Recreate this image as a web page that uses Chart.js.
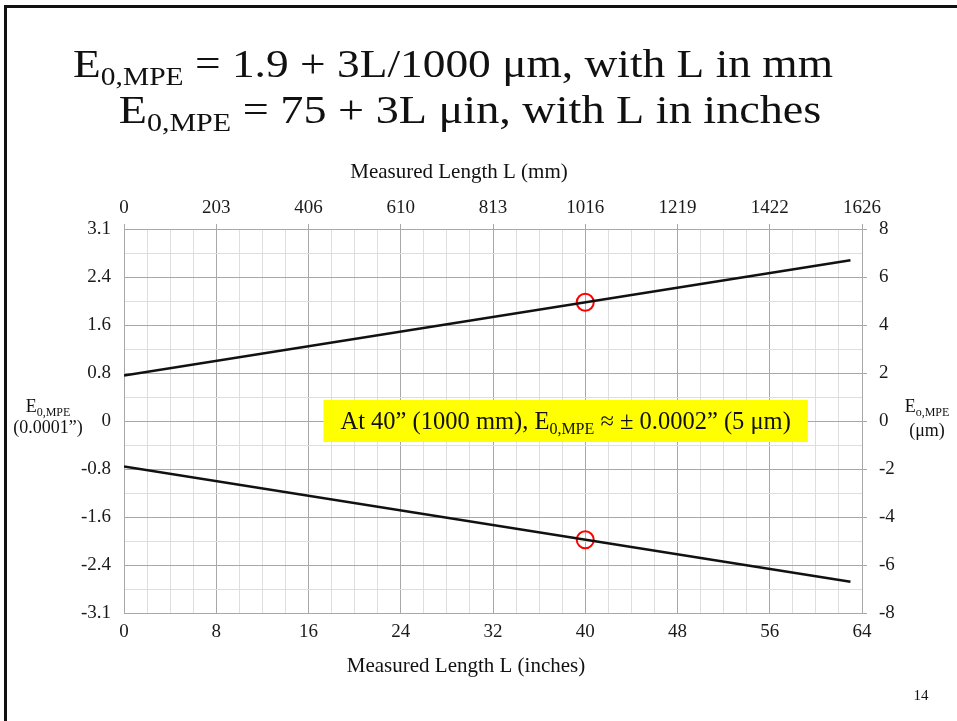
<!DOCTYPE html>
<html>
<head>
<meta charset="utf-8">
<script src="https://cdn.jsdelivr.net/npm/chart.js@4.4.1/dist/chart.umd.min.js"></script>
<style>
  html, body { margin: 0; padding: 0; background: #fff; overflow: hidden; }
  #wrap { position: relative; width: 957px; height: 721px; }
</style>
</head>
<body>
<div id="wrap"><canvas id="chart" width="957" height="721"></canvas></div>
<script>
// tick labels
const inchLabels = ['0','8','16','24','32','40','48','56','64'];
const mmLabels   = ['0','203','406','610','813','1016','1219','1422','1626'];
const umLabels   = ['-8','-6','-4','-2','0','2','4','6','8'];
const tenthLabels = ['-3.1','-2.4','-1.6','-0.8','0','0.8','1.6','2.4','3.1'];

// series (L in inches, E in µm)
const lengthIn = [0, 63];
const upperUm  = [1.9, 6.7];
const lowerUm  = [-1.9, -6.7];
const markIn   = [40, 40];
const markUm   = [4.95, -4.95];

const SERIF = '"Liberation Serif", "Times New Roman", serif';
const MAJOR = '#a8a8a8', MINOR = '#dedede';

// text with subscript runs: parts = [[text, isSub], ...]
function runsWidth(ctx, parts, size){
  const sub = Math.round(size*0.64);
  let w = 0;
  parts.forEach(p => { ctx.font = (p[1]?sub:size)+'px '+SERIF; w += ctx.measureText(p[0]).width; });
  return w;
}
function drawRuns(ctx, parts, x, y, size, align, sx){
  sx = sx || 1;
  const sub = Math.round(size*0.64);
  const w = runsWidth(ctx, parts, size) * sx;
  let cx = align==='center' ? x-w/2 : align==='right' ? x-w : x;
  ctx.save();
  ctx.translate(cx, y);
  ctx.scale(sx, 1);
  ctx.textAlign = 'left'; ctx.textBaseline = 'alphabetic';
  let px = 0;
  parts.forEach(p => {
    ctx.font = (p[1]?sub:size)+'px '+SERIF;
    ctx.fillText(p[0], px, p[1] ? size*0.2 : 0);
    px += ctx.measureText(p[0]).width;
  });
  ctx.restore();
  return w;
}

const slideText = {
  id: 'slideText',
  afterDatasetsDraw(chart){
    const ctx = chart.ctx, xs = chart.scales.x, ys = chart.scales.yR;
    ctx.save();
    // yellow note box centred on 38.3", 0 µm
    const parts = [['At 40\u201D (1000 mm), E',0],['0,MPE',1],[' \u2248 \u00B1 0.0002\u201D (5 \u03BCm)',0]];
    const size = 24.5;
    const w = runsWidth(ctx, parts, size);
    const cx = xs.getPixelForValue(38.3), cy = ys.getPixelForValue(0);
    ctx.fillStyle = '#ffff00';
    ctx.fillRect(cx-w/2-17, cy-21, w+34, 42);
    ctx.fillStyle = '#111';
    drawRuns(ctx, parts, cx, cy+8, size, 'center');
    ctx.restore();
  },
  afterDraw(chart){
    const ctx = chart.ctx;
    ctx.save();
    // slide border
    ctx.fillStyle = '#111';
    ctx.fillRect(4, 5, 3, 716);
    ctx.fillRect(4, 5, 953, 3);
    // title
    drawRuns(ctx, [['E',0],['0,MPE',1],[' = 1.9 + 3L/1000 \u03BCm, with L in mm',0]], 453, 77, 40, 'center', 1.135);
    drawRuns(ctx, [['E',0],['0,MPE',1],[' = 75 + 3L \u03BCin, with L in inches',0]], 470, 123, 40, 'center', 1.155);
    // axis titles
    drawRuns(ctx, [['Measured Length L (mm)',0]], 459, 178, 21, 'center');
    drawRuns(ctx, [['Measured Length L (inches)',0]], 466, 672, 21, 'center');
    drawRuns(ctx, [['E',0],['0,MPE',1]], 48, 412, 18, 'center');
    drawRuns(ctx, [['(0.0001\u201D)',0]], 48, 433, 18, 'center');
    drawRuns(ctx, [['E',0],['o,MPE',1]], 927, 412, 18, 'center');
    drawRuns(ctx, [['(\u03BCm)',0]], 927, 436, 18, 'center');
    // page number
    drawRuns(ctx, [['14',0]], 921, 700, 15, 'center');
    ctx.restore();
  }
};

const tickFont = { family: SERIF, size: 19 };

new Chart(document.getElementById('chart'), {
  type: 'scatter',
  data: {
    datasets: [
      { data: lengthIn.map((x,i)=>({x, y: upperUm[i]})), xAxisID: 'x', yAxisID: 'yR',
        showLine: true, borderColor: '#111', borderWidth: 2.5, pointRadius: 0 },
      { data: lengthIn.map((x,i)=>({x, y: lowerUm[i]})), xAxisID: 'x', yAxisID: 'yR',
        showLine: true, borderColor: '#111', borderWidth: 2.5, pointRadius: 0 },
      { data: markIn.map((x,i)=>({x, y: markUm[i]})), xAxisID: 'x', yAxisID: 'yR',
        showLine: false, pointRadius: 8.5, pointBorderWidth: 2,
        borderColor: '#ff0000', backgroundColor: 'rgba(0,0,0,0)' }
    ]
  },
  options: {
    responsive: false,
    animation: false,
    devicePixelRatio: 1,
    layout: { padding: 0 },
    plugins: { legend: { display: false }, tooltip: { enabled: false } },
    scales: {
      x: {
        type: 'linear', position: 'bottom', min: 0, max: 64,
        ticks: { stepSize: 2, autoSkip: false, maxRotation: 0, color: '#1a1a1a', font: tickFont, padding: 8,
          callback: v => v % 8 === 0 ? inchLabels[v/8] : '' },
        grid: { color: c => c.tick && c.tick.value % 8 === 0 ? MAJOR : MINOR, drawTicks: false },
        border: { color: MAJOR },
        afterFit: s => { s.height = 108; }
      },
      xTop: {
        type: 'linear', position: 'top', min: 0, max: 64,
        ticks: { stepSize: 8, autoSkip: false, maxRotation: 0, color: '#1a1a1a', font: tickFont, padding: 5,
          callback: v => mmLabels[v/8] },
        grid: { drawOnChartArea: false, drawTicks: true, tickLength: 5, color: MAJOR },
        border: { display: false },
        afterFit: s => { s.height = 229; }
      },
      yR: {
        type: 'linear', position: 'right', min: -8, max: 8,
        ticks: { stepSize: 1, autoSkip: false, color: '#1a1a1a', font: tickFont, padding: 12,
          callback: v => v % 2 === 0 ? umLabels[(v+8)/2] : '' },
        grid: { color: c => c.tick && c.tick.value % 2 === 0 ? MAJOR : MINOR, drawTicks: true, tickLength: 5,
          tickColor: c => c.tick && c.tick.value % 2 === 0 ? MAJOR : 'rgba(0,0,0,0)' },
        border: { color: MAJOR },
        afterFit: s => { s.width = 95; }
      },
      yL: {
        type: 'linear', position: 'left', min: -8, max: 8,
        ticks: { stepSize: 2, autoSkip: false, color: '#1a1a1a', font: tickFont, padding: 13,
          callback: v => tenthLabels[(v+8)/2] },
        grid: { display: false, drawTicks: false },
        border: { color: MAJOR },
        afterFit: s => { s.width = 124; }
      }
    }
  },
  plugins: [slideText]
});
</script>
</body>
</html>
